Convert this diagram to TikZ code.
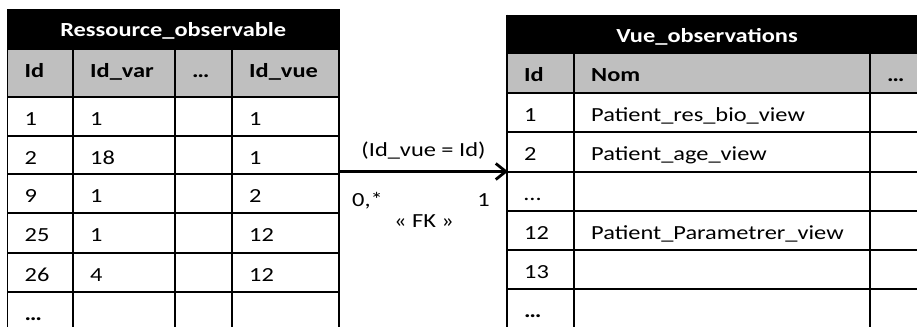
\documentclass[tikz,border=0pt]{standalone}
\usepackage{fontspec}
\setmainfont[FakeStretch=1.22,Numbers=Lining]{Carlito}
\usetikzlibrary{arrows.meta}
\definecolor{hdrgrey}{RGB}{191,191,191}
\newcommand{\tabfont}{\fontsize{20}{24}\selectfont}

\tikzset{
  cell/.style={anchor=base west, inner sep=0pt},
  title/.style={anchor=base, inner sep=0pt, text=white, font=\tabfont\bfseries},
  colhead/.style={cell, font=\tabfont\bfseries},
  gridline/.style={line width=1.5pt},
  fk/.style={line width=2.8pt, -{Straight Barb[length=10pt,width=16pt]}},
}

\begin{document}
\begin{tikzpicture}[x=1pt,y=-1pt,font=\tabfont]
  \useasboundingbox (0,0) rectangle (917,327);
  \clip (0,0) rectangle (917,327);

  % Ressource_observable
  \fill[black] (7.5,9) rectangle (339,49);
  \fill[hdrgrey] (7.5,49) rectangle (339,97);
  \foreach \y in {49,97,136,174,213,253,292}
    \draw[gridline] (7.5,\y) -- (339,\y);
  \draw[gridline] (7.5,9) -- (7.5,327);
  \draw[gridline] (339,9) -- (339,327);
  \foreach \x in {73,175,232}
    \draw[gridline] (\x,49) -- (\x,327);

  \node[title] (ro-title) at (173.25,36) {Ressource\_observable};
  \node[colhead] (ro-h1) at (24.5,77) {Id};
  \node[colhead] (ro-h2) at (90,77) {Id\_var};
  \node[colhead] (ro-h3) at (192,77) {…};
  \node[colhead] (ro-h4) at (249,77) {Id\_vue};

  \foreach \i/\y/\id/\var/\vue in {
    1/125/1/1/1,
    2/164/2/18/1,
    3/202/9/1/2,
    4/241/25/1/12,
    5/281/26/4/12
  }{
    \node[cell] (ro-\i-a) at (24.5,\y) {\id};
    \node[cell] (ro-\i-b) at (90,\y) {\var};
    \node[cell] (ro-\i-d) at (249,\y) {\vue};
  }
  \node[colhead] (ro-6-a) at (24.5,320) {…};

  % Vue_observations
  \fill[black] (507,14.7) rectangle (917,53);
  \fill[hdrgrey] (507,53) rectangle (917,93);
  \foreach \y in {53,93,132,172,211,250,289}
    \draw[gridline] (507,\y) -- (917,\y);
  \draw[gridline] (507,14.7) -- (507,327);
  \foreach \x in {574,870}
    \draw[gridline] (\x,53) -- (\x,327);

  \node[title] (vo-title) at (707,42) {Vue\_observations};
  \node[colhead] (vo-h1) at (524,81) {Id};
  \node[colhead] (vo-h2) at (591,81) {Nom};
  \node[colhead] (vo-h3) at (887,81) {…};

  \foreach \i/\y/\id/\nom in {
    1/121/1/Patient\_res\_bio\_view,
    2/160/2/Patient\_age\_view,
    3/200/…/{},
    4/239/12/Patient\_Parametrer\_view,
    5/278/13/{}
  }{
    \node[cell] (vo-\i-a) at (524,\y) {\id};
    \node[cell] (vo-\i-b) at (591,\y) {\nom};
  }
  \node[colhead] (vo-6-a) at (524,317) {…};

  % foreign key
  \coordinate (ro-fk) at (339,171.5);
  \coordinate (vo-pk) at (508,171.5);
  \draw[fk] (ro-fk) -- (vo-pk);
  \node[anchor=base, inner sep=0pt] (fk-cond) at (423.5,156) {(Id\_vue = Id)};
  \node[cell] (fk-src) at (352,206) {0,*};
  \node[anchor=base east, inner sep=0pt] (fk-dst) at (490,206) {1};
  \node[anchor=base, inner sep=0pt] (fk-name) at (424,227) {« FK »};
\end{tikzpicture}
\end{document}
